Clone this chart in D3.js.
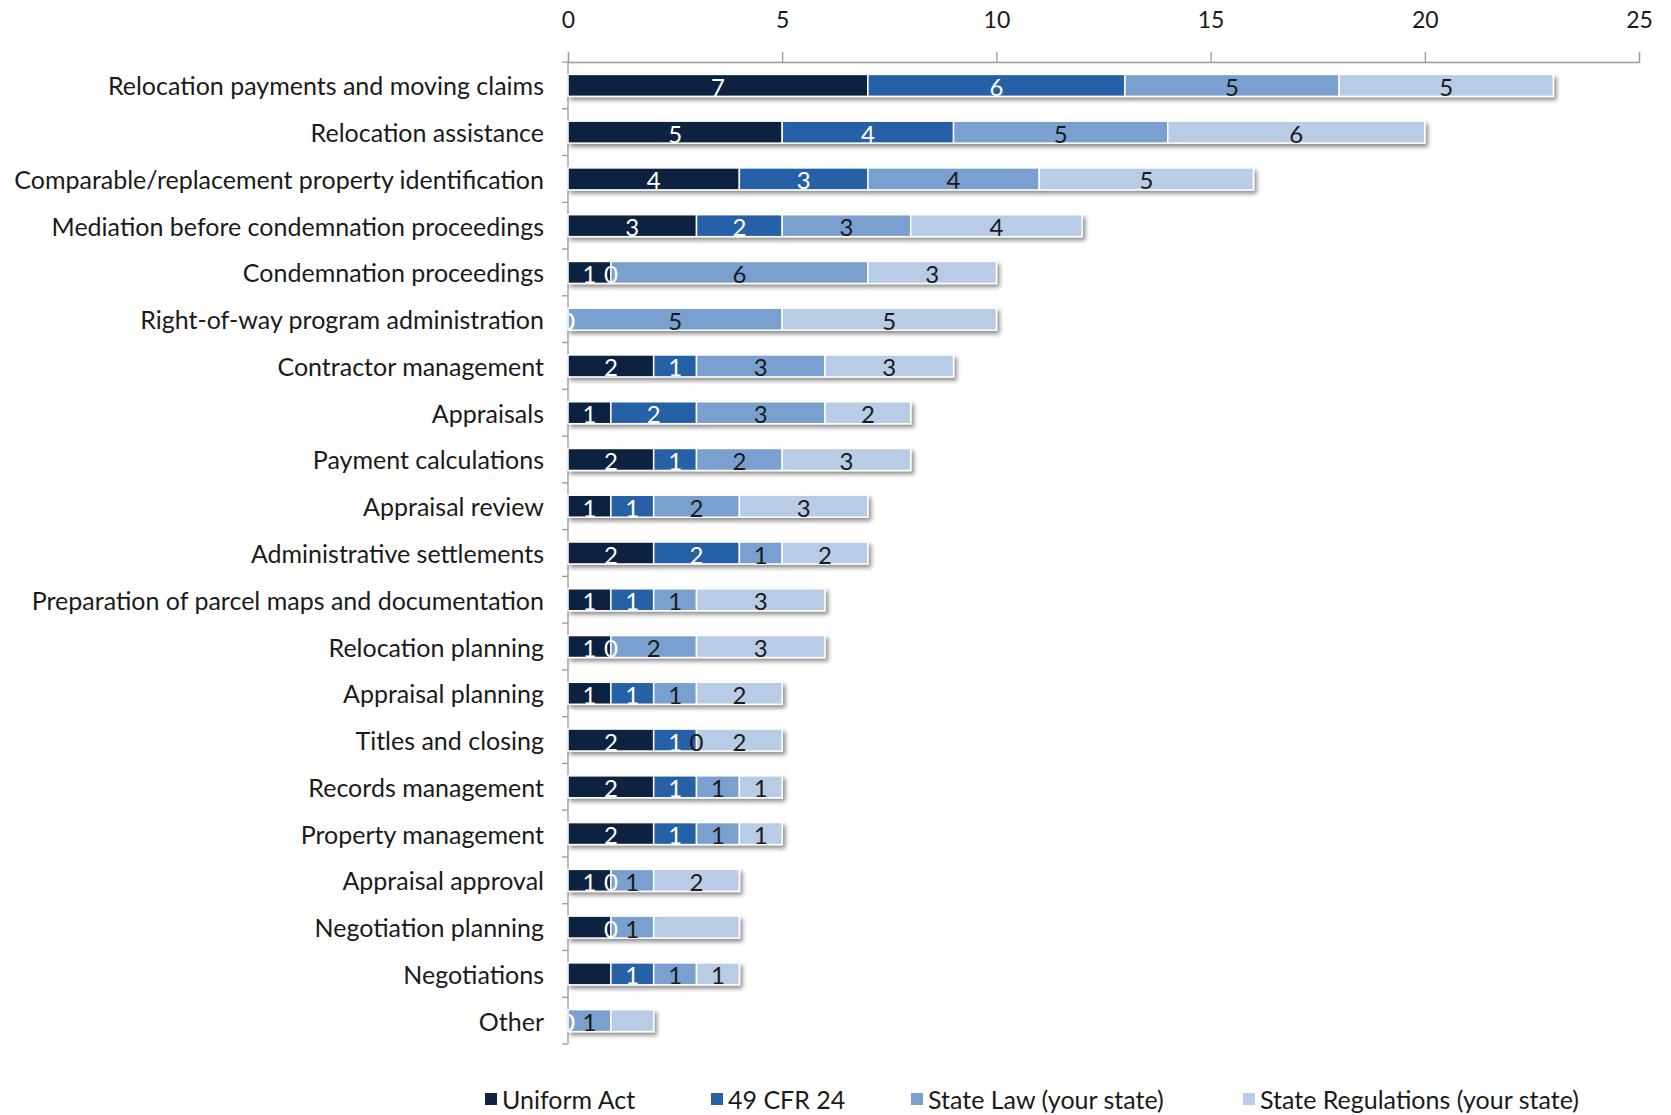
<!DOCTYPE html>
<html>
<head>
<meta charset="utf-8">
<script src="https://cdn.jsdelivr.net/npm/d3@7"></script>
<style>
  html, body { margin: 0; padding: 0; background: #fff; }
  svg { display: block; font-family: Lato, "Open Sans", sans-serif; }
</style>
</head>
<body>
<div id="chart"></div>
<script>
// Topics of training need, top to bottom
const categories = [
  "Relocation payments and moving claims",
  "Relocation assistance",
  "Comparable/replacement property identification",
  "Mediation before condemnation proceedings",
  "Condemnation proceedings",
  "Right-of-way program administration",
  "Contractor management",
  "Appraisals",
  "Payment calculations",
  "Appraisal review",
  "Administrative settlements",
  "Preparation of parcel maps and documentation",
  "Relocation planning",
  "Appraisal planning",
  "Titles and closing",
  "Records management",
  "Property management",
  "Appraisal approval",
  "Negotiation planning",
  "Negotiations",
  "Other"
];

const seriesNames = ["Uniform Act", "49 CFR 24", "State Law (your state)", "State Regulations (your state)"];

const uniformAct   = [7, 5, 4, 3, 1, 0, 2, 1, 2, 1, 2, 1, 1, 1, 2, 2, 2, 1, 1, 1, 0];
const cfr24        = [6, 4, 3, 2, 0, 0, 1, 2, 1, 1, 2, 1, 0, 1, 1, 1, 1, 0, 0, 1, 0];
const stateLaw     = [5, 5, 4, 3, 6, 5, 3, 3, 2, 2, 1, 1, 2, 1, 0, 1, 1, 1, 1, 1, 1];
const stateRegs    = [5, 6, 5, 4, 3, 5, 3, 2, 3, 3, 2, 3, 3, 2, 2, 1, 1, 2, 2, 1, 1];

const xTicks = [0, 5, 10, 15, 20, 25];

// Segments whose value label is not printed: [category index, series index]
const unlabeled = [[18, 0], [18, 3], [19, 0], [20, 3]];

const colors = ["#0f2341", "#2861a6", "#7aa0cf", "#b8cce5"];
const labelColors = ["#ffffff", "#ffffff", "#1a1a1a", "#1a1a1a"];

const W = 1671, H = 1115;
const margin = { left: 568, right: 32, top: 62, bottom: 71 };

const svg = d3.select("#chart").append("svg")
  .attr("width", W).attr("height", H);

const defs = svg.append("defs");
const shadow = defs.append("filter").attr("id", "barShadow")
  .attr("x", "-5%").attr("y", "-30%").attr("width", "115%").attr("height", "180%");
shadow.append("feDropShadow")
  .attr("dx", 2.5).attr("dy", 3).attr("stdDeviation", 2)
  .attr("flood-color", "#000").attr("flood-opacity", 0.45);

defs.append("clipPath").attr("id", "plotClip")
  .append("rect")
  .attr("x", margin.left + 1).attr("y", 0)
  .attr("width", W - margin.left).attr("height", H);

const x = d3.scaleLinear().domain([0, 25]).range([margin.left, W - margin.right]);
const y = d3.scaleBand().domain(categories)
  .range([margin.top, H - margin.bottom])
  .paddingInner(0.53).paddingOuter(0.265);

const rows = categories.map((c, i) => ({
  category: c,
  s0: uniformAct[i], s1: cfr24[i], s2: stateLaw[i], s3: stateRegs[i]
}));
const stack = d3.stack().keys(["s0", "s1", "s2", "s3"])(rows);

// Top axis
const xAxis = d3.axisTop(x).tickValues(xTicks).tickSize(10).tickPadding(24);
const gx = svg.append("g").attr("transform", `translate(0,${margin.top})`).call(xAxis);
gx.select(".domain").attr("stroke", "#9a9a9a").attr("stroke-width", 1.3);
gx.selectAll(".tick line").attr("stroke", "#9a9a9a").attr("stroke-width", 1.3);
gx.selectAll(".tick text")
  .attr("fill", "#1a1a1a").style("font-size", "23px")
  .style("font-family", "Lato, 'Open Sans', sans-serif");

// Left category axis
const bandEdges = categories.map(c => y(c) - y.step() * y.paddingInner() / 2);
bandEdges.push(H - margin.bottom);
const gy = svg.append("g");
gy.append("line")
  .attr("x1", margin.left).attr("x2", margin.left)
  .attr("y1", margin.top).attr("y2", H - margin.bottom)
  .attr("stroke", "#9a9a9a").attr("stroke-width", 1.3);
gy.selectAll("line.tk").data(bandEdges).join("line").attr("class", "tk")
  .attr("x1", margin.left - 6).attr("x2", margin.left)
  .attr("y1", d => d).attr("y2", d => d)
  .attr("stroke", "#9a9a9a").attr("stroke-width", 1.3);
gy.selectAll("text").data(categories).join("text")
  .attr("x", margin.left - 24)
  .attr("y", d => y(d) + y.bandwidth() / 2)
  .attr("text-anchor", "end").attr("dominant-baseline", "central")
  .attr("fill", "#1a1a1a").style("font-size", "25px")
  .text(d => d);

// Stacked bars
const layers = svg.append("g").attr("filter", "url(#barShadow)");
stack.forEach((layer, si) => {
  layers.append("g").selectAll("rect").data(layer).join("rect")
    .attr("x", d => x(d[0]))
    .attr("y", d => y(d.data.category))
    .attr("width", d => Math.max(0, x(d[1]) - x(d[0])))
    .attr("height", y.bandwidth())
    .attr("fill", colors[si])
    .attr("stroke", "#ffffff").attr("stroke-width", 1.5);
});

// Value labels
const hidden = new Set(unlabeled.map(d => d.join(",")));
const labels = svg.append("g").attr("clip-path", "url(#plotClip)");
stack.forEach((layer, si) => {
  labels.append("g").selectAll("text")
    .data(layer.map((d, ci) => ({ d, ci })).filter(o => !hidden.has(o.ci + "," + si)))
    .join("text")
    .attr("x", o => (x(o.d[0]) + x(o.d[1])) / 2)
    .attr("y", o => y(o.d.data.category) + y.bandwidth() / 2 + 1)
    .attr("text-anchor", "middle").attr("dominant-baseline", "central")
    .attr("fill", labelColors[si]).style("font-size", "24px")
    .text(o => o.d[1] - o.d[0]);
});

// Legend
const legendX = [485, 711, 911, 1243];
const legend = svg.append("g").attr("transform", `translate(0,${H - 8})`);
seriesNames.forEach((name, i) => {
  const g = legend.append("g").attr("transform", `translate(${legendX[i]},0)`);
  g.append("rect").attr("x", 0).attr("y", -14).attr("width", 12).attr("height", 12)
    .attr("fill", colors[i]);
  g.append("text").attr("x", 17).attr("y", -8)
    .attr("dominant-baseline", "central")
    .attr("fill", "#1a1a1a").style("font-size", "25px")
    .text(name);
});
</script>
</body>
</html>
